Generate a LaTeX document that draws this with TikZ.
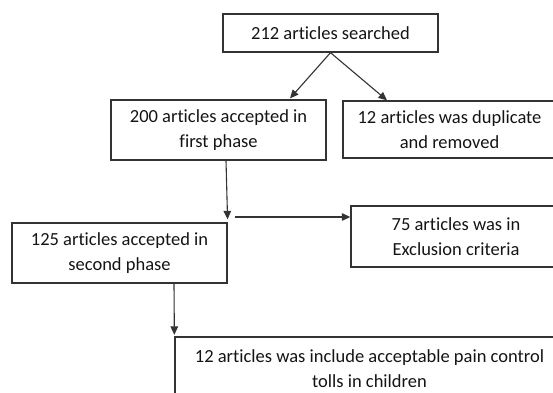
\documentclass[tikz,border=0pt]{standalone}
\usepackage{fontspec}
\setmainfont{Carlito}[Ligatures=NoCommon]
\usetikzlibrary{arrows.meta}
\definecolor{edge}{HTML}{333333}
\definecolor{ink}{HTML}{141414}
\tikzset{
  flowbox/.style={draw=edge, line width=1.3pt, rectangle, inner sep=0pt, align=center,
    text=ink, font=\fontsize{18.5}{25}\selectfont, anchor=center},
  conn/.style={draw=edge, line width=1.1pt, -{Triangle[length=8.5pt,width=7.5pt]}}
}
\begin{document}
\begin{tikzpicture}[x=1pt,y=-1pt]
\useasboundingbox (0,0) rectangle (553,392);
\clip (0,0) rectangle (553,392);
\node[flowbox, minimum width=215pt, minimum height=38pt] (b1) at (330.5,33) {212 articles searched};
\node[flowbox, minimum width=215pt, minimum height=60pt] (b2) at (218.5,130) {200 articles accepted in\\first phase};
\node[flowbox, minimum width=213pt, minimum height=57pt] (b3) at (449.5,129.5) {12 articles was duplicate\\and removed};
\node[flowbox, minimum width=210pt, minimum height=61pt] (b4) at (456,236.5) {75 articles was in\\Exclusion criteria};
\node[flowbox, minimum width=215pt, minimum height=60pt] (b5) at (119.5,253) {125 articles accepted in\\second phase};
\node[flowbox, minimum width=389pt, minimum height=64pt, text depth=0pt] (b6) at (369.5,369) {12 articles was include acceptable pain control\\tolls in children};
\coordinate (h) at (235,217);
\draw[conn] (b1.south) -- ([xshift=71.5pt,yshift=1pt]b2.north);
\draw[conn] (b1.south) -- ([xshift=-62.5pt]b3.north);
\draw[conn, shorten >=3pt] ([xshift=7.5pt]b2.south) -- (b5.north east);
\draw[conn] (h) -- (h -| b4.west);
\draw[conn, shorten >=1.5pt] ([xshift=54.5pt]b5.south) -- (b6.north west);
\end{tikzpicture}
\end{document}
